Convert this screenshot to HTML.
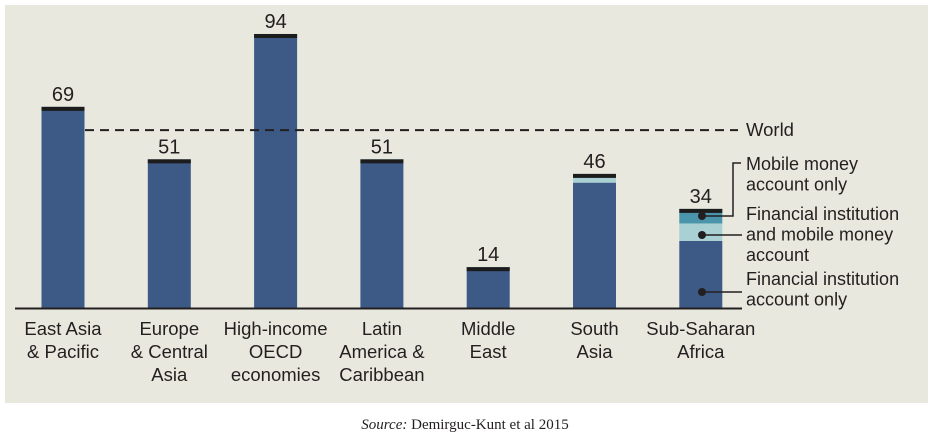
<!DOCTYPE html>
<html><head><meta charset="utf-8"><style>
body{margin:0;background:#fff;width:933px;height:436px;overflow:hidden}
svg text{font-family:"Liberation Sans",sans-serif;fill:#231f20}
</style></head><body>
<svg width="933" height="436">
<rect x="5" y="5" width="923" height="398" fill="#e8e8de"/>
<g id="bars"></g>
<line x1="15" y1="308.5" x2="742" y2="308.5" stroke="#231f20" stroke-width="2"/>
<line id="world" x1="85" x2="738" stroke="#231f20" stroke-width="2" stroke-dasharray="9,6"/>
<text id="worldlbl" x="746" font-size="18.5">World</text>
<g id="labels"></g>
<g>
<polyline points="741,163 733,163 733,216 702,216" fill="none" stroke="#231f20" stroke-width="1.5"/>
<circle cx="702" cy="216" r="4" fill="#231f20"/>
<text x="746" y="170" font-size="18"><tspan x="746">Mobile money</tspan><tspan x="746" dy="20.5">account only</tspan></text>
<line x1="702" y1="235" x2="742" y2="235" stroke="#231f20" stroke-width="1.5"/>
<circle cx="702" cy="235" r="4" fill="#231f20"/>
<text x="746" y="220" font-size="18"><tspan x="746">Financial institution</tspan><tspan x="746" dy="20.5">and mobile money</tspan><tspan x="746" dy="20.5">account</tspan></text>
<line x1="702" y1="292" x2="742" y2="292" stroke="#231f20" stroke-width="1.5"/>
<circle cx="702" cy="292" r="4" fill="#231f20"/>
<text x="746" y="285" font-size="18"><tspan x="746">Financial institution</tspan><tspan x="746" dy="20.5">account only</tspan></text>
</g>
<text x="465" y="429" text-anchor="middle" font-size="15" style="font-family:'Liberation Serif',serif"><tspan font-style="italic">Source:</tspan> Demirguc-Kunt et al 2015</text>
</svg>
<script>
const categories=[["East Asia","& Pacific"],["Europe","& Central","Asia"],["High-income","OECD","economies"],["Latin","America &","Caribbean"],["Middle","East"],["South","Asia"],["Sub-Saharan","Africa"]];
const totals=[69,51,94,51,14,46,34];
const mobileOnly=[0,0,0,0.5,0,1,5];
const bothAccounts=[0,0,0,0.7,0,2,6];
const worldValue=61;
const base=308,scale=2.915,x0=63,step=106.3,bw=43;
const ys=v=>base-v*scale;
const xs=i=>x0+i*step;
const ns="http://www.w3.org/2000/svg";
const bars=document.getElementById('bars'),labels=document.getElementById('labels');
function rect(x,y,w,h,fill,name){const r=document.createElementNS(ns,'rect');
r.setAttribute('x',x);r.setAttribute('y',y);r.setAttribute('width',w);r.setAttribute('height',Math.max(0,h));r.setAttribute('fill',fill);


bars.appendChild(r);}
totals.forEach((t,i)=>{
 const cx=xs(i),l=cx-bw/2,top=ys(t);
 const fin=t-mobileOnly[i]-bothAccounts[i];
 rect(l,ys(fin),bw,base-ys(fin),'#3d5a87','bar-financial-'+i);
 rect(l,ys(fin+bothAccounts[i]),bw,bothAccounts[i]*scale,'#a9d0d3','bar-both-'+i);
 rect(l,top,bw,mobileOnly[i]*scale,'#4a95ab','bar-mobile-'+i);
 rect(l,top,bw,4,'#1c1c1c','bar-cap-'+i);
 const v=document.createElementNS(ns,'text');
 v.setAttribute('x',cx);v.setAttribute('y',top-6);v.setAttribute('text-anchor','middle');v.setAttribute('font-size','20');
 v.textContent=t;
 
 
 labels.appendChild(v);
 categories[i].forEach((s,k)=>{const c=document.createElementNS(ns,'text');
  c.setAttribute('x',cx);c.setAttribute('y',335+k*23);c.setAttribute('text-anchor','middle');c.setAttribute('font-size','18.5');
  c.textContent=s;
  
  
  labels.appendChild(c);});
});
const w=document.getElementById('world');w.setAttribute('y1',ys(worldValue));w.setAttribute('y2',ys(worldValue));
document.getElementById('worldlbl').setAttribute('y',ys(worldValue)+6);
</script>
</body></html>
